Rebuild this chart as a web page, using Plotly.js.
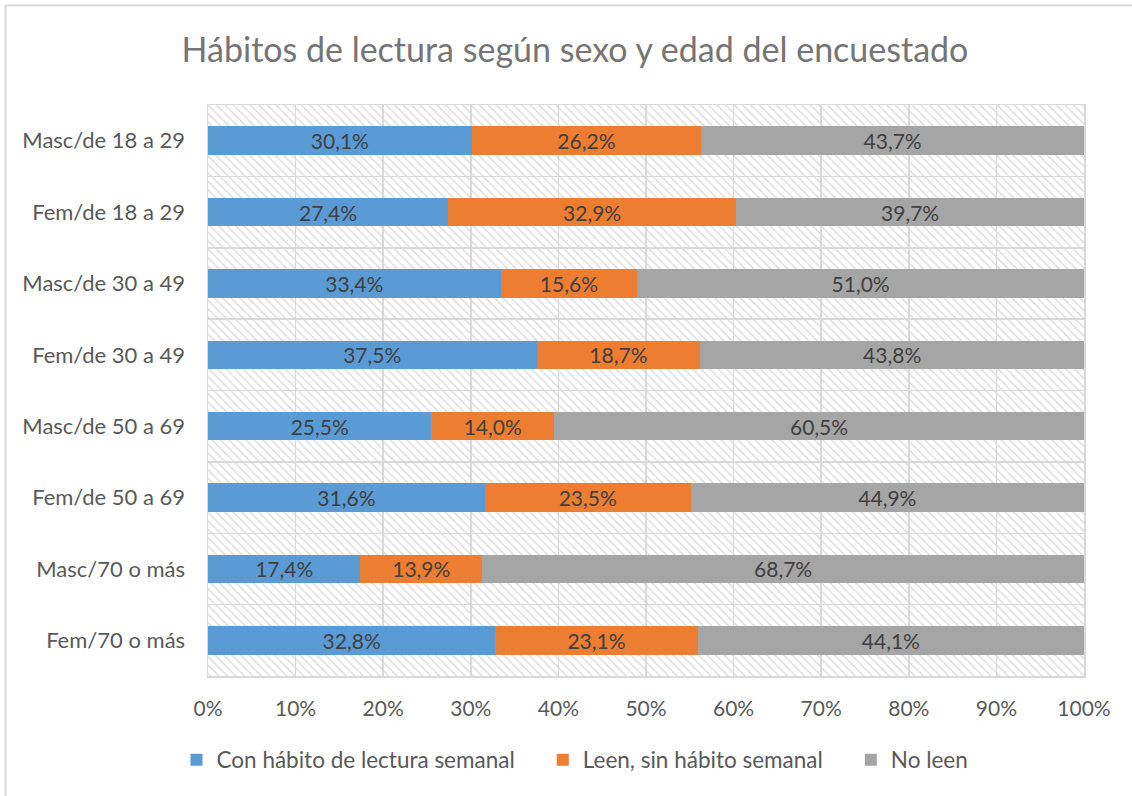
<!DOCTYPE html>
<html>
<head>
<meta charset="utf-8">
<script src="https://cdn.plot.ly/plotly-3.0.1.min.js"></script>
<style>html,body{margin:0;padding:0;background:#fff;}#chart{width:1132px;height:796px;}</style>
</head>
<body>
<div id="chart"></div>
<script>
const categories = ["Masc/de 18 a 29","Fem/de 18 a 29","Masc/de 30 a 49","Fem/de 30 a 49","Masc/de 50 a 69","Fem/de 50 a 69","Masc/70 o más","Fem/70 o más"];
const seriesNames = ["Con hábito de lectura semanal","Leen, sin hábito semanal","No leen"];
const conHabito = [30.1, 27.4, 33.4, 37.5, 25.5, 31.6, 17.4, 32.8];
const sinHabito = [26.2, 32.9, 15.6, 18.7, 14.0, 23.5, 13.9, 23.1];
const noLeen    = [43.7, 39.7, 51.0, 43.8, 60.5, 44.9, 68.7, 44.1];
const xTickVals = [0,10,20,30,40,50,60,70,80,90,100];
const xTickText = ["0%","10%","20%","30%","40%","50%","60%","70%","80%","90%","100%"];
const fullScale = categories.map(() => 100);

const colors = ["#5B9BD5", "#ED7D31", "#A5A5A5"];
const FONT = "Lato, 'Open Sans', sans-serif";
const PAD = "\u00a0\u00a0\u00a0\u00a0";

const W = 1132, H = 796;
const M = {l: 208, r: 48, t: 105, b: 120};
const pw = W - M.l - M.r, ph = H - M.t - M.b;

const hatch = {
  type: "bar", orientation: "h", x: fullScale, y: categories,
  xaxis: "x", yaxis: "y", width: 1, showlegend: false, hoverinfo: "skip",
  marker: {color: "rgba(0,0,0,0)", line: {width: 0},
    pattern: {shape: "\\", fillmode: "replace", fgcolor: "#d6d6d6", bgcolor: "rgba(0,0,0,0)", size: 6, solidity: 0.2}}
};

function seg(vals, i, pad) {
  return {
    type: "bar", orientation: "h", name: seriesNames[i] + pad, x: vals, y: categories,
    xaxis: "x2", yaxis: "y2", width: 0.4,
    marker: {color: colors[i], line: {width: 0}},
    text: vals, texttemplate: "%{x:.1f}%", textposition: "inside",
    insidetextanchor: "middle", textangle: 0, constraintext: "none",
    textfont: {family: FONT, size: 21, color: "#404040"}
  };
}

const data = [hatch, seg(conHabito, 0, PAD), seg(sinHabito, 1, PAD), seg(noLeen, 2, "")];

const px2x = v => (v - M.l) / pw;
const px2y = v => (H - M.b - v) / ph;

const layout = {
  width: W, height: H,
  margin: M,
  paper_bgcolor: "#ffffff", plot_bgcolor: "#ffffff",
  separators: ",.",
  barmode: "stack",
  font: {family: FONT, color: "#595959", size: 21},
  title: {text: "Hábitos de lectura según sexo y edad del encuestado",
    font: {family: FONT, size: 34, color: "#757575"},
    x: 575 / W, xanchor: "center", y: 1 - 50 / H, yanchor: "middle"},
  xaxis: {range: [0, 100], tickvals: xTickVals, ticktext: xTickText, tickangle: 0,
    showgrid: true, gridcolor: "#d9d9d9", gridwidth: 1.5, zeroline: false,
    showline: true, linecolor: "#d9d9d9", linewidth: 1.5, mirror: true,
    ticks: "", ticklabelstandoff: 13, fixedrange: true, automargin: false,
    tickfont: {family: FONT, size: 21, color: "#595959"}},
  yaxis: {type: "category", categoryarray: categories, autorange: "reversed",
    tickson: "boundaries", showgrid: true, gridcolor: "#d9d9d9", gridwidth: 1.5,
    showline: true, linecolor: "#d9d9d9", linewidth: 1.5, mirror: true,
    ticks: "", ticklabelstandoff: 17, zeroline: false, automargin: false,
    tickfont: {family: FONT, size: 22, color: "#595959"}},
  xaxis2: {overlaying: "x", range: [0, 100], visible: false, fixedrange: true},
  yaxis2: {overlaying: "y", type: "category", categoryarray: categories, autorange: "reversed", visible: false},
  legend: {orientation: "h", x: px2x(575), xanchor: "center",
    y: px2y(760), yanchor: "middle", font: {family: FONT, size: 22.5, color: "#595959"},
    traceorder: "normal"},
  shapes: [
    {type: "line", xref: "paper", yref: "paper", x0: px2x(5.5), x1: px2x(5.5), y0: px2y(5), y1: px2y(H), line: {color: "#d9d9d9", width: 2}},
    {type: "line", xref: "paper", yref: "paper", x0: px2x(5), x1: px2x(W), y0: px2y(5.5), y1: px2y(5.5), line: {color: "#d9d9d9", width: 2}}
  ]
};

Plotly.newPlot("chart", data, layout, {displayModeBar: false, staticPlot: true});
</script>
</body>
</html>
